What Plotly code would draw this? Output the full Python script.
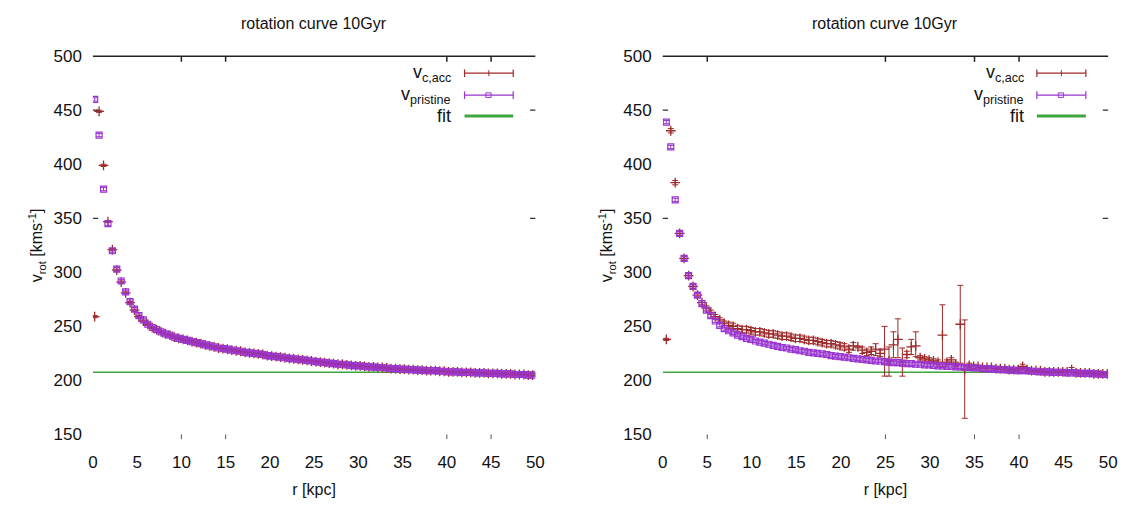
import plotly.graph_objects as go

# ---------------- data ----------------
# radial bins (kpc)
r_left = [round(0.2 + 0.5 * i, 2) for i in range(100)]
r_right = [round(0.4 + 0.5 * i, 2) for i in range(100)]

# left panel: v_c,acc
vacc_left = [259, 449, 399, 347, 321, 302, 291, 281, 272, 265,
             259, 255, 252, 249, 247, 245, 243, 242, 240, 239,
             238, 237, 236, 235, 234, 233, 232, 231, 230, 229.5,
             229, 228, 227.5, 227, 226, 225.5, 225, 224.5, 224, 223,
             222.5, 222, 221.5, 221, 220.5, 220, 219.5, 219, 218.5, 218,
             217.5, 217, 216.5, 216, 215.5, 215, 215, 214.5, 214, 213.5,
             213.5, 213, 212.5, 212.5, 212, 212, 211.5, 211, 211, 210.5,
             210.5, 210, 210, 209.5, 209.5, 209, 209, 209, 208.5, 208.5,
             208, 208, 208, 207.5, 207.5, 207.5, 207, 207, 207, 206.5,
             206.5, 206.5, 206, 206, 206, 205.5, 205.5, 205.5, 205, 205]
eacc_left = [1] * 100

# left panel: v_pristine
vpri_left = [460, 427, 377, 345, 320, 303, 292, 282, 273, 266,
             260, 256, 252, 249, 247, 245, 243, 242, 240, 239,
             238, 237, 236, 235, 234, 233, 232, 231, 230, 229.5,
             229, 228, 227.5, 227, 226, 225.5, 225, 224.5, 224, 223,
             222.5, 222, 221.5, 221, 220.5, 220, 219.5, 219, 218.5, 218,
             217.5, 217, 216.5, 216, 215.5, 215, 215, 214.5, 214, 213.5,
             213.5, 213, 212.5, 212.5, 212, 212, 211.5, 211, 211, 210.5,
             210.5, 210, 210, 209.5, 209.5, 209, 209, 209, 208.5, 208.5,
             208, 208, 208, 207.5, 207.5, 207.5, 207, 207, 207, 206.5,
             206.5, 206.5, 206, 206, 206, 205.5, 205.5, 205.5, 205, 205]
epri_left = [1.5] * 100

# right panel: v_c,acc (asymmetric error bars)
vacc_right = [238, 431, 383, 336, 313, 297, 287, 279, 272, 267,
              263, 259, 256, 253, 251, 250, 248, 247, 247, 246,
              245, 245, 244, 243, 243, 242, 241, 241, 240, 239,
              239, 238, 237, 237, 236, 235, 234, 234, 233, 232,
              231, 229, 232, 231, 228, 226, 227, 229, 225, 229,
              218, 233, 238, 217, 224, 231, 232, 221, 220, 219,
              218, 217, 242, 217, 219, 215, 252, 210, 214, 213,
              213, 212, 212, 212, 211, 211, 211, 210, 210, 210,
              213, 210, 209, 209, 209, 208, 208, 208, 208, 208,
              208, 210, 207, 207, 207, 207, 206, 206, 206, 206]
eacc_right_up = [1, 2, 2, 2, 2, 2, 2, 2, 2, 2,
                 2, 2, 2, 2, 3, 3, 3, 3, 3, 3,
                 3, 3, 3, 3, 3, 3, 3, 3, 3, 3,
                 3, 3, 3, 3, 3, 3, 3, 3, 3, 3,
                 3, 3, 3, 1, 3, 3, 4, 5, 3, 21,
                 13, 12, 19, 13, 3, 7, 13, 2, 2, 2,
                 2, 2, 28, 2, 2, 2, 36, 46, 2, 2,
                 1, 1, 1, 1, 1, 1, 1, 1, 1, 1,
                 2, 1, 1, 1, 1, 1, 1, 1, 1, 1,
                 1, 2, 1, 1, 1, 1, 1, 1, 1, 1]
eacc_right_dn = [1, 2, 2, 2, 2, 2, 2, 2, 2, 2,
                 2, 2, 2, 2, 3, 3, 3, 3, 3, 3,
                 3, 3, 3, 3, 3, 3, 3, 3, 3, 3,
                 3, 3, 3, 3, 3, 3, 3, 3, 3, 3,
                 3, 3, 4, 1, 3, 3, 3, 6, 3, 25,
                 14, 12, 17, 13, 3, 7, 10, 2, 2, 2,
                 2, 2, 29, 2, 2, 2, 36, 45, 2, 2,
                 1, 1, 1, 1, 1, 1, 1, 1, 1, 1,
                 2, 1, 1, 1, 1, 1, 1, 1, 1, 1,
                 1, 2, 1, 1, 1, 1, 1, 1, 1, 1]

# right panel: v_pristine
vpri_right = [439, 416, 367, 336, 313, 297, 287, 279, 271, 265,
              260, 255, 251, 248, 246, 244, 242, 240.5, 239, 238,
              236.5, 235.5, 234.5, 233.5, 232.5, 231.5, 230.5, 230, 229, 228.5,
              227.5, 227, 226, 225.5, 225, 224.5, 224, 223, 222.5, 222,
              221.5, 221, 220.5, 220, 219.5, 219, 218.5, 218, 218, 217.5,
              217, 216.5, 216.5, 216, 215.5, 215.5, 215, 215, 214.5, 214.5,
              214, 213.5, 213.5, 213, 213, 212.5, 212.5, 212, 212, 211.5,
              211.5, 211, 211, 210.5, 210.5, 210, 210, 209.5, 209.5, 209,
              209, 209, 208.5, 208.5, 208, 208, 208, 207.5, 207.5, 207.5,
              207, 207, 207, 206.5, 206.5, 206.5, 206, 206, 205.5, 205.5]
epri_right = [1.5] * 100

fit_value = 207.5
x_ticks = [0, 5, 10, 15, 20, 25, 30, 35, 40, 45, 50]
y_ticks = [150, 200, 250, 300, 350, 400, 450, 500]
# stray tick marks visible on the frame
frame_ticks_left = [10, 15, 40, 45]
frame_ticks_right = [5, 25, 35, 40]
side_ticks = [350, 450]

title_text = "rotation curve 10Gyr"
legend_labels = ["v<sub>c,acc</sub>", "v<sub>pristine</sub>", "fit"]

# ---------------- style ----------------
C_ACC = "#9e2a2a"
C_PRI = "#9a35d0"
C_FIT = "#3fa63f"
FONT = "Liberation Sans, Arial, sans-serif"
W, H = 1128, 509

fig = go.Figure()

panels = [
    dict(xa="x", ya="y", r=r_left, va=vacc_left, eu=eacc_left, ed=eacc_left,
         vp=vpri_left, ep=epri_left, ft=frame_ticks_left),
    dict(xa="x2", ya="y2", r=r_right, va=vacc_right, eu=eacc_right_up, ed=eacc_right_dn,
         vp=vpri_right, ep=epri_right, ft=frame_ticks_right),
]

for p in panels:
    fig.add_trace(go.Scatter(x=[0, 50], y=[fit_value, fit_value], mode="lines",
                             line=dict(color=C_FIT, width=1.5),
                             xaxis=p["xa"], yaxis=p["ya"], showlegend=False))
    fig.add_trace(go.Scatter(x=p["r"], y=p["va"], mode="markers",
                             marker=dict(symbol="cross-thin-open", size=7, color=C_ACC,
                                         line=dict(width=1.3, color=C_ACC)),
                             error_y=dict(type="data", array=p["eu"], arrayminus=p["ed"],
                                          symmetric=False, color=C_ACC, thickness=1, width=3),
                             xaxis=p["xa"], yaxis=p["ya"], showlegend=False))
    fig.add_trace(go.Scatter(x=p["r"], y=p["vp"], mode="markers",
                             marker=dict(symbol="square-open", size=6, color=C_PRI,
                                         line=dict(width=1.2, color=C_PRI)),
                             error_y=dict(type="data", array=p["ep"], color=C_PRI,
                                          thickness=1, width=3),
                             xaxis=p["xa"], yaxis=p["ya"], showlegend=False))

# ---------------- layout ----------------
def px_x(v):
    return v / W

def px_y(v):
    return 1 - v / H

y_dom = [px_y(442), px_y(49)]
x_dom_left = [px_x(89), px_x(537)]
x_dom_right = [px_x(666), px_x(1117)]

axis_common = dict(showline=False, showgrid=False, zeroline=False, ticks="",
                   tickfont=dict(family=FONT, size=17, color="#111111"))
xt = dict(text="r [kpc]", font=dict(family=FONT, size=16, color="#111"), standoff=13)
yt = dict(text="v<sub>rot</sub> [kms<sup>-1</sup>]",
          font=dict(family=FONT, size=16, color="#111"), standoff=6)

fig.update_layout(
    width=W, height=H, margin=dict(l=0, r=0, t=0, b=0),
    paper_bgcolor="white", plot_bgcolor="white", showlegend=False,
    xaxis=dict(domain=x_dom_left, range=[0, 50], tickvals=x_ticks, anchor="y",
               ticklabelstandoff=15, title=xt, **axis_common),
    yaxis=dict(domain=y_dom, range=[150, 500], tickvals=y_ticks, anchor="x",
               ticklabelstandoff=10, title=yt, **axis_common),
    xaxis2=dict(domain=x_dom_right, range=[0, 50], tickvals=x_ticks, anchor="y2",
                ticklabelstandoff=15, title=xt, **axis_common),
    yaxis2=dict(domain=y_dom, range=[150, 500], tickvals=y_ticks, anchor="x2",
                ticklabelstandoff=10, title=yt, **axis_common),
)

shapes = []
annotations = []
for p, xa, ya in [(panels[0], "x", "y"), (panels[1], "x2", "y2")]:
    xd = xa + " domain"
    yd = ya + " domain"
    shapes.append(dict(type="line", xref=xd, yref=yd, x0=0, x1=1, y0=1, y1=1,
                       line=dict(color="#222", width=1.5)))
    for t in p["ft"]:
        shapes.append(dict(type="line", xref=xa, yref=yd, x0=t, x1=t, y0=1, y1=0.985,
                           line=dict(color="#222", width=1.5)))
        shapes.append(dict(type="line", xref=xa, yref=yd, x0=t, x1=t, y0=-0.012, y1=0.0,
                           line=dict(color="#555", width=1)))
    for t in side_ticks:
        shapes.append(dict(type="line", xref=xd, yref=ya, x0=0, x1=0.012, y0=t, y1=t,
                           line=dict(color="#333", width=1.2)))
        shapes.append(dict(type="line", xref=xd, yref=ya, x0=0.988, x1=1, y0=t, y1=t,
                           line=dict(color="#333", width=1.2)))
    annotations.append(dict(xref=xd, yref="paper", x=0.5, y=px_y(15), text=title_text,
                            showarrow=False, xanchor="center", yanchor="middle",
                            font=dict(family=FONT, size=16, color="#111")))
    rows = [0.955, 0.897, 0.842]
    cols = [C_ACC, C_PRI, C_FIT]
    for lab, yy in zip(legend_labels, rows):
        annotations.append(dict(xref=xd, yref=yd, x=0.815, y=yy, text=lab, showarrow=False,
                                xanchor="right", yanchor="middle",
                                font=dict(family=FONT, size=18, color="#111")))
    for i, (yy, cc) in enumerate(zip(rows, cols)):
        w = 3 if i == 2 else 1.2
        shapes.append(dict(type="line", xref=xd, yref=yd, x0=0.84, x1=0.95, y0=yy, y1=yy,
                           line=dict(color=cc, width=w)))
        if i < 2:
            for xe in (0.84, 0.95):
                shapes.append(dict(type="line", xref=xd, yref=yd, x0=xe, x1=xe,
                                   y0=yy - 0.01, y1=yy + 0.01, line=dict(color=cc, width=1.2)))
    shapes.append(dict(type="line", xref=xd, yref=yd, x0=0.895, x1=0.895,
                       y0=rows[0] - 0.008, y1=rows[0] + 0.008, line=dict(color=C_ACC, width=1)))
    shapes.append(dict(type="rect", xref=xd, yref=yd, x0=0.888, x1=0.900,
                       y0=rows[1] - 0.006, y1=rows[1] + 0.006, line=dict(color=C_PRI, width=1)))

fig.update_layout(shapes=shapes, annotations=annotations)
fig.write_html("out.html")
